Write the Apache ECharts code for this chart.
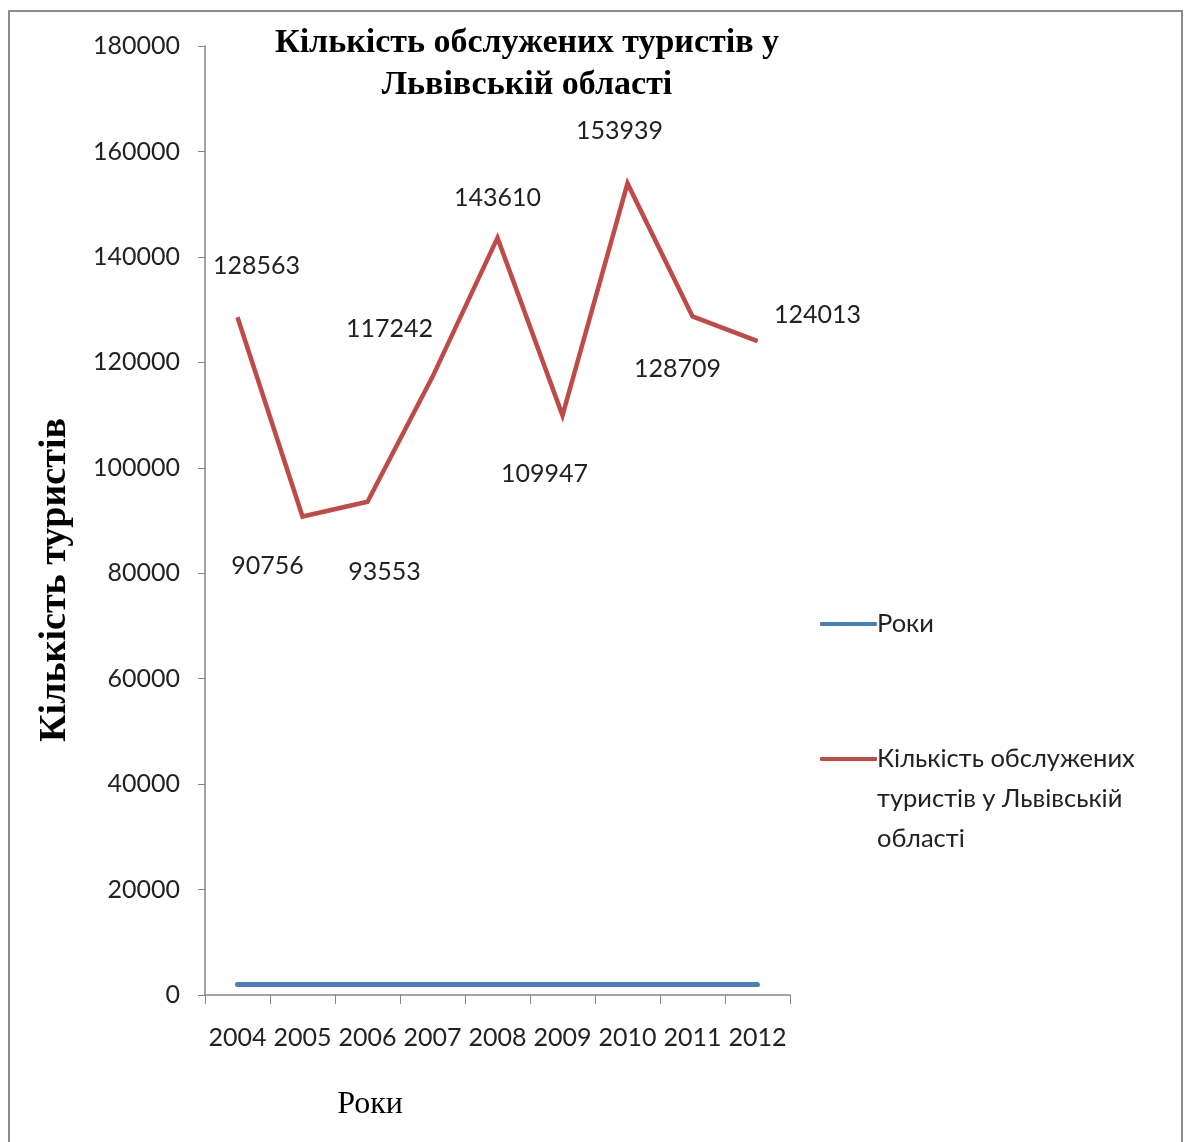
<!DOCTYPE html>
<html><head><meta charset="utf-8">
<script src="https://cdn.jsdelivr.net/npm/echarts@6/dist/echarts.min.js"></script>
<style>html,body{margin:0;padding:0;background:#fff}#c{width:1185px;height:1142px}</style>
</head><body><div id="c"></div>
<script>
const years = ['2004','2005','2006','2007','2008','2009','2010','2011','2012'];
const rokySeries = [2004,2005,2006,2007,2008,2009,2010,2011,2012];
const touristsSeries = [128563,90756,93553,117242,143610,109947,153939,128709,124013];
const yTicks = {min:0, max:180000, interval:20000};
const LABEL_OFFSETS = [[19,-51],[-35,49],[17,70],[-43,-48],[0,-40],[-18,59],[-8,-52],[-15,53],[60,-26]];

const sans = 'Lato';
const serif = '"Liberation Serif", "DejaVu Serif", serif';
const chart = echarts.init(document.getElementById('c'));
chart.setOption({
  animation:false,
  backgroundColor:'#fff',
  title:{
    text:'Кількість обслужених туристів у\nЛьвівській області',
    left:522, top:17, textAlign:'center',
    textStyle:{fontFamily:serif, fontWeight:'bold', fontSize:34, lineHeight:42, color:'#000'}
  },
  grid:{left:205, right:395, top:46, bottom:147},
  legend:{
    orient:'vertical', left:815, top:606, itemWidth:57, itemHeight:4, itemGap:109,
    icon:'roundRect',
    textStyle:{fontFamily:sans, fontSize:25.5, color:'#222', padding:[0,0,0,-5]},
    data:['Роки','Кількість обслужених туристів у Львівській області'],
    formatter:function(n){ return n==='Роки' ? n : 'Кількість обслужених'; }
  },
  xAxis:{
    type:'category', data:years, boundaryGap:true,
    axisLine:{lineStyle:{color:'#868686', width:1.5}},
    axisTick:{show:true, length:9, alignWithLabel:false, lineStyle:{color:'#868686'}},
    axisLabel:{fontFamily:sans, fontSize:25, color:'#222', margin:30, interval:0}
  },
  yAxis:{
    type:'value', min:yTicks.min, max:yTicks.max, interval:yTicks.interval,
    splitLine:{show:false},
    axisLine:{show:true, lineStyle:{color:'#868686', width:1.5}},
    axisTick:{show:true, length:7, lineStyle:{color:'#868686'}},
    axisLabel:{fontFamily:sans, fontSize:25, color:'#222', margin:25, formatter:function(v){return String(v);}}
  },
  series:[
    {name:'Роки', type:'line', data:rokySeries, symbol:'none',
     lineStyle:{color:'#4a7ebb', width:5, cap:'round'}, itemStyle:{color:'#4a7ebb'}},
    {name:'Кількість обслужених туристів у Львівській області', type:'line',
     data:touristsSeries.map((v,i)=>({value:v, label:{offset:LABEL_OFFSETS[i]}})),
     symbol:'circle', symbolSize:1, showSymbol:true,
     lineStyle:{color:'#be4b48', width:4.5, join:'miter'}, itemStyle:{color:'#be4b48'},
     label:{show:true, position:'inside', fontFamily:sans, fontSize:25, color:'#222'}}
  ],
  graphic:[
    {type:'rect', shape:{x:9, y:11, width:1173, height:1140}, style:{fill:'none', stroke:'#8c8c8c', lineWidth:2}, silent:true},
    {type:'text', left:877, top:779, style:{text:'туристів у Львівській\nобласті', font:'25.5px Lato', fill:'#222', lineHeight:40}},
    {type:'text', x:370, y:1105, style:{text:'Роки', font:'32px '+serif, fill:'#000', textAlign:'center', textVerticalAlign:'middle'}},
    {type:'text', x:55, y:580, rotation:Math.PI/2, style:{text:'Кількість туристів', font:'bold 38px '+serif, fill:'#000', textAlign:'center', textVerticalAlign:'middle'}}
  ]
});
</script></body></html>
